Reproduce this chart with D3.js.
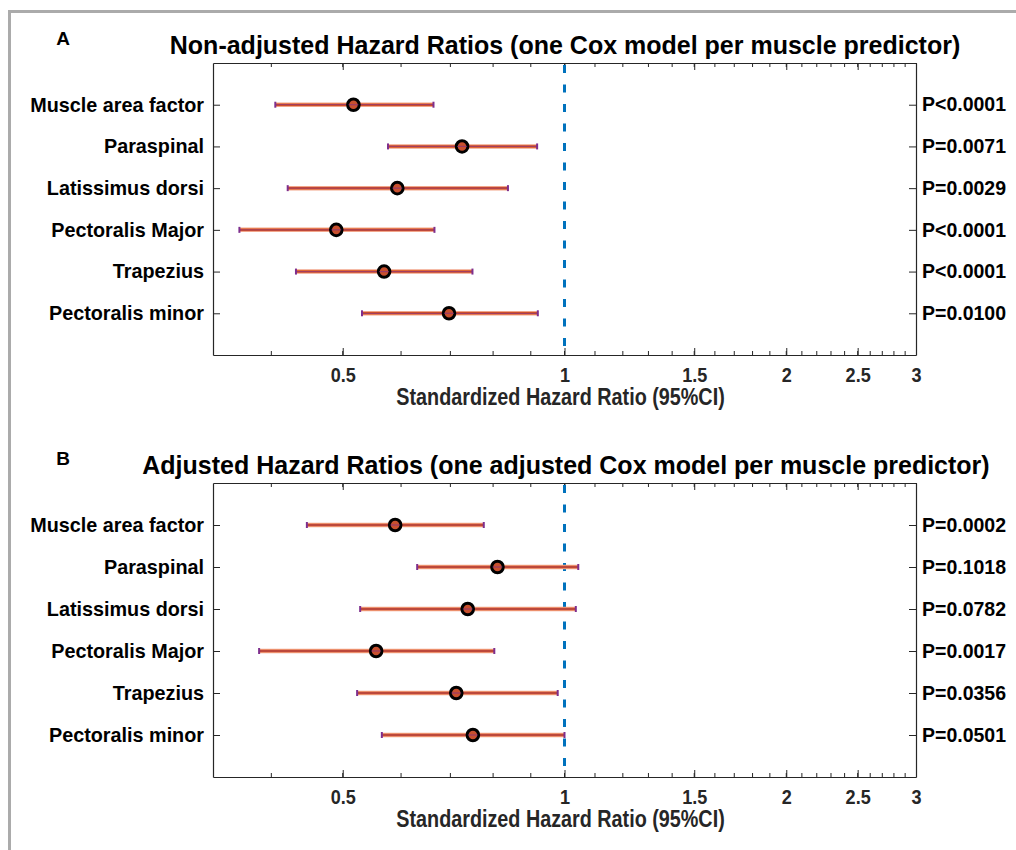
<!DOCTYPE html>
<html>
<head>
<meta charset="utf-8">
<script src="https://cdn.jsdelivr.net/npm/d3@7/dist/d3.min.js"></script>
<style>
  body { margin: 0; background: #fff; }
  svg { display: block; }
  .axis path, .axis line { stroke: #262626; }
  .label-narrow { font-family: "Liberation Sans", Arial, sans-serif; font-weight: bold; }
  .label-wide { font-family: "Liberation Sans", Arial, sans-serif; font-weight: bold; }
</style>
</head>
<body>
<svg id="forest" width="1016" height="850"></svg>
<script>

var MUSCLES = ['Muscle area factor', 'Paraspinal', 'Latissimus dorsi',
  'Pectoralis Major', 'Trapezius', 'Pectoralis minor'];

// panel A: non-adjusted
var A_HR = [0.517, 0.726, 0.593, 0.490, 0.569, 0.697];
var A_LO = [0.405, 0.576, 0.421, 0.362, 0.432, 0.531];
var A_HI = [0.664, 0.918, 0.838, 0.666, 0.750, 0.920];
var A_P = ['P<0.0001', 'P=0.0071', 'P=0.0029', 'P<0.0001', 'P<0.0001', 'P=0.0100'];

// panel B: adjusted
var B_HR = [0.589, 0.811, 0.739, 0.555, 0.713, 0.751];
var B_LO = [0.447, 0.631, 0.528, 0.385, 0.523, 0.565];
var B_HI = [0.777, 1.044, 1.036, 0.803, 0.979, 1.000];
var B_P = ['P=0.0002', 'P=0.1018', 'P=0.0782', 'P=0.0017', 'P=0.0356', 'P=0.0501'];

var X_TICKS = [0.5, 1, 1.5, 2, 2.5, 3];
var X_DOMAIN = [1 / 3, 3];
var X_LABEL = 'Standardized Hazard Ratio (95%CI)';

var ORANGE = '#D95319';
var PURPLE = '#7E2F8E';
var BLUE = '#0072BD';
var NARROW = 'scale(0.86,1)'; // no narrow font installed, squeeze instead

var svg = d3.select('#forest');

// grey frame on the left / top edge
svg.append('path')
    .attr('d', 'M9.5,850 V11.5 H1016')
    .attr('fill', 'none')
    .attr('stroke', '#ababab')
    .attr('stroke-width', 3);

function drawPanel(opts) {
  var x = d3.scaleLog().domain(X_DOMAIN).range([opts.left, opts.right]);
  var y = d3.scaleLinear().domain([0, 7]).range([opts.top, opts.bottom]);

  var rows = MUSCLES.map(function(m, i) {
    return {name: m, hr: opts.hr[i], lo: opts.lo[i], hi: opts.hi[i], pos: i + 1};
  });

  var g = svg.append('g');

  // panel letter + title
  g.append('text')
      .attr('class', 'label-wide')
      .attr('x', 63).attr('y', opts.top - 18)
      .attr('text-anchor', 'middle')
      .style('font-size', '19px')
      .text(opts.letter);

  g.append('text')
      .attr('class', 'label-wide')
      .attr('x', opts.titleX).attr('y', opts.top - 9)
      .attr('text-anchor', 'middle')
      .style('font-size', '25px')
      .text(opts.title);

  // minor ticks every 0.1 (log axis), bottom + top, inward
  var minor = d3.range(4, 30).map(function(d) { return d / 10; });
  var minorG = g.append('g');
  minorG.selectAll('.mb').data(minor).enter().append('line')
      .attr('x1', function(d) { return x(d); }).attr('x2', function(d) { return x(d); })
      .attr('y1', opts.bottom).attr('y2', opts.bottom - 4)
      .attr('stroke', '#262626');
  minorG.selectAll('.mt').data(minor).enter().append('line')
      .attr('x1', function(d) { return x(d); }).attr('x2', function(d) { return x(d); })
      .attr('y1', opts.top).attr('y2', opts.top + 4)
      .attr('stroke', '#262626');

  var xAxis = g.append('g')
      .attr('class', 'x axis')
      .attr('transform', 'translate(0,' + opts.bottom + ')')
      .call(d3.axisBottom(x).tickValues(X_TICKS).tickSizeInner(-7).tickSizeOuter(0)
        .tickPadding(12).tickFormat(d3.format('~g')));
  xAxis.selectAll('text')
      .attr('class', 'label-narrow')
      .attr('transform', NARROW)
      .style('font-size', '21px')
      .attr('fill', '#262626');

  g.append('g')
      .attr('class', 'x axis')
      .attr('transform', 'translate(0,' + opts.top + ')')
      .call(d3.axisTop(x).tickValues(X_TICKS).tickSizeInner(-7).tickSizeOuter(0).tickFormat(''));

  var yAxis = g.append('g')
      .attr('class', 'y axis')
      .attr('transform', 'translate(' + opts.left + ',0)')
      .call(d3.axisLeft(y).tickValues([1, 2, 3, 4, 5, 6]).tickSizeInner(-7).tickSizeOuter(0)
        .tickPadding(9).tickFormat(function(d) { return MUSCLES[d - 1]; }));
  yAxis.selectAll('text')
      .attr('class', 'label-wide')
      .style('font-size', '19.8px')
      .attr('fill', '#000');

  var pAxis = g.append('g')
      .attr('class', 'y axis')
      .attr('transform', 'translate(' + opts.right + ',0)')
      .call(d3.axisRight(y).tickValues([1, 2, 3, 4, 5, 6]).tickSizeInner(-7).tickSizeOuter(0)
        .tickPadding(6).tickFormat(function(d) { return opts.p[d - 1]; }));
  pAxis.selectAll('text')
      .attr('class', 'label-wide')
      .style('font-size', '19.5px')
      .attr('fill', '#000');

  g.selectAll('.domain').attr('stroke-width', 1.2);

  g.append('g')
      .attr('transform', 'translate(' + ((opts.left + opts.right) / 2 - 4) + ',' + (opts.bottom + 50) + ')')
    .append('text')
      .attr('class', 'label-narrow')
      .attr('transform', NARROW)
      .attr('text-anchor', 'middle')
      .style('font-size', '23px')
      .attr('fill', '#262626')
      .text(X_LABEL);

  // reference line at HR = 1
  g.append('line')
      .attr('x1', x(1)).attr('x2', x(1))
      .attr('y1', opts.top + 2).attr('y2', opts.bottom)
      .attr('stroke', BLUE)
      .attr('stroke-width', 3)
      .attr('stroke-dasharray', '8,11.5');

  // error bars
  var bars = g.selectAll('.ci').data(rows).enter().append('g').attr('class', 'ci');
  bars.append('line')
      .attr('x1', function(d) { return x(d.lo); }).attr('x2', function(d) { return x(d.hi); })
      .attr('y1', function(d) { return y(d.pos); }).attr('y2', function(d) { return y(d.pos); })
      .attr('stroke', '#f2a58a').attr('stroke-width', 4.5);
  bars.append('line')
      .attr('x1', function(d) { return x(d.lo); }).attr('x2', function(d) { return x(d.hi); })
      .attr('y1', function(d) { return y(d.pos); }).attr('y2', function(d) { return y(d.pos); })
      .attr('stroke', ORANGE).attr('stroke-width', 2.5);
  bars.append('line')
      .attr('x1', function(d) { return x(d.lo); }).attr('x2', function(d) { return x(d.hi); })
      .attr('y1', function(d) { return y(d.pos); }).attr('y2', function(d) { return y(d.pos); })
      .attr('stroke', PURPLE).attr('stroke-opacity', 0.6).attr('stroke-width', 1.2);
  ['lo', 'hi'].forEach(function(k) {
    bars.append('line')
        .attr('x1', function(d) { return x(d[k]); }).attr('x2', function(d) { return x(d[k]); })
        .attr('y1', function(d) { return y(d.pos) - 3; }).attr('y2', function(d) { return y(d.pos) + 3; })
        .attr('stroke', PURPLE).attr('stroke-width', 2);
  });

  // point estimates
  bars.append('circle')
      .attr('cx', function(d) { return x(d.hr); })
      .attr('cy', function(d) { return y(d.pos); })
      .attr('r', 5.8)
      .attr('fill', '#c8502e')
      .attr('stroke', '#000')
      .attr('stroke-width', 3);
  bars.append('line')
      .attr('x1', function(d) { return x(d.hr) - 5; }).attr('x2', function(d) { return x(d.hr) + 5; })
      .attr('y1', function(d) { return y(d.pos); }).attr('y2', function(d) { return y(d.pos); })
      .attr('stroke', PURPLE).attr('stroke-opacity', 0.6).attr('stroke-width', 1.2);
}

drawPanel({
  letter: 'A',
  title: 'Non-adjusted Hazard Ratios (one Cox model per muscle predictor)',
  titleX: 565,
  left: 213, right: 916, top: 63, bottom: 355,
  hr: A_HR, lo: A_LO, hi: A_HI, p: A_P
});

drawPanel({
  letter: 'B',
  title: 'Adjusted Hazard Ratios (one adjusted Cox model per muscle predictor)',
  titleX: 566,
  left: 213, right: 916, top: 483, bottom: 777,
  hr: B_HR, lo: B_LO, hi: B_HI, p: B_P
});

</script>
</body>
</html>
